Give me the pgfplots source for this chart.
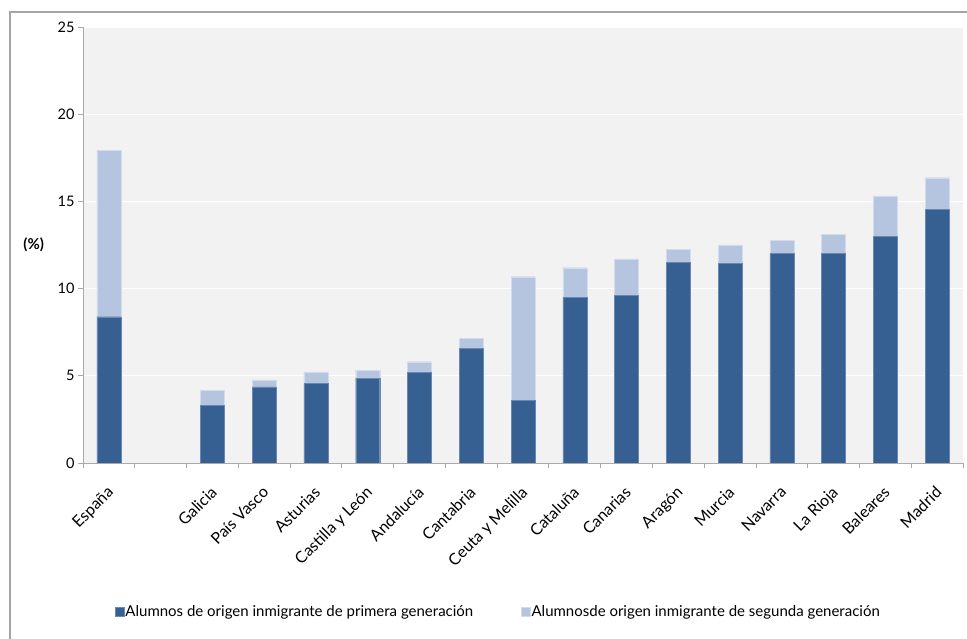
\documentclass[border=0pt]{standalone}
\usepackage{fontspec}
\setmainfont{Lato}
\usepackage{pgfplots}
\pgfplotsset{compat=1.18}
\definecolor{dark}{RGB}{54,96,146}
\definecolor{light}{RGB}{181,196,223}
\definecolor{bg}{RGB}{242,242,242}
\definecolor{framec}{RGB}{165,165,165}
\definecolor{axc}{RGB}{170,170,170}
\begin{document}
\begin{tikzpicture}[x=1bp,y=1bp]
\useasboundingbox (0,0) rectangle (967,639);
\draw[framec, line width=1.3bp] (10,-2) -- (10,627) -- (969,627);
\begin{axis}[
  at={(83bp,176bp)}, anchor=south west,
  scale only axis, width=880bp, height=436bp,
  ybar stacked, bar width=24bp,
  xmin=-0.5, xmax=16.5, ymin=0, ymax=25,
  axis background/.style={fill=bg},
  axis x line*=bottom, axis y line*=left,
  axis line style={axc, line width=0.8bp},
  ymajorgrids, grid style={white, line width=0.8bp},
  ytick={0,5,...,25},
  xtick={0,2,3,4,5,6,7,8,9,10,11,12,13,14,15,16},
  xticklabels={España,Galicia,País Vasco,Asturias,Castilla y León,Andalucía,Cantabria,Ceuta y Melilla,Cataluña,Canarias,Aragón,Murcia,Navarra,La Rioja,Baleares,Madrid},
  minor xtick={-0.5,0.5,...,16.5},
  tick align=outside,
  major tick length=5bp, minor tick length=5bp,
  major x tick style={draw=none},
  tick style={axc, line width=0.8bp},
  /pgf/number format/assume math mode=true,
  y tick label style={font=\fontsize{14.5bp}{16bp}\selectfont},
  x tick label style={font=\fontsize{16bp}{18bp}\selectfont, rotate=45, anchor=north east, inner sep=2bp, xshift=-12bp, yshift=-8bp},
  ylabel={\textbf{(\%)}},
  ylabel style={rotate=-90, at={(rel axis cs:-0.056,0.5)}, anchor=center, font=\fontsize{15bp}{17bp}\selectfont},
  legend columns=2,
  legend style={draw=none, fill=none, at={(0.4716,-0.342)}, anchor=center,
    font=\fontsize{15bp}{17bp}\selectfont,
    /tikz/every even column/.append style={column sep=46bp},
    nodes={inner sep=1.5bp}},
  legend image code/.code={\fill[#1] (3bp,-4.5bp) rectangle (12bp,4.5bp);},
]
\addplot[fill=dark, draw=light!40!dark, line width=0.3bp] coordinates {
(0,8.39) (2,3.31) (3,4.36) (4,4.57) (5,4.86) (6,5.20) (7,6.58) (8,3.61)
(9,9.50) (10,9.61) (11,11.49) (12,11.45) (13,12.02) (14,12.02) (15,13.00) (16,14.55)};
\addplot[fill=light, draw=light!60!white, line width=0.3bp] coordinates {
(0,9.54) (2,0.86) (3,0.40) (4,0.65) (5,0.47) (6,0.61) (7,0.57) (8,7.07)
(9,1.70) (10,2.10) (11,0.76) (12,1.05) (13,0.75) (14,1.11) (15,2.31) (16,1.81)};
\legend{Alumnos de origen inmigrante de primera generación, Alumnosde origen inmigrante de segunda generación}
\end{axis}
\end{tikzpicture}
\end{document}
